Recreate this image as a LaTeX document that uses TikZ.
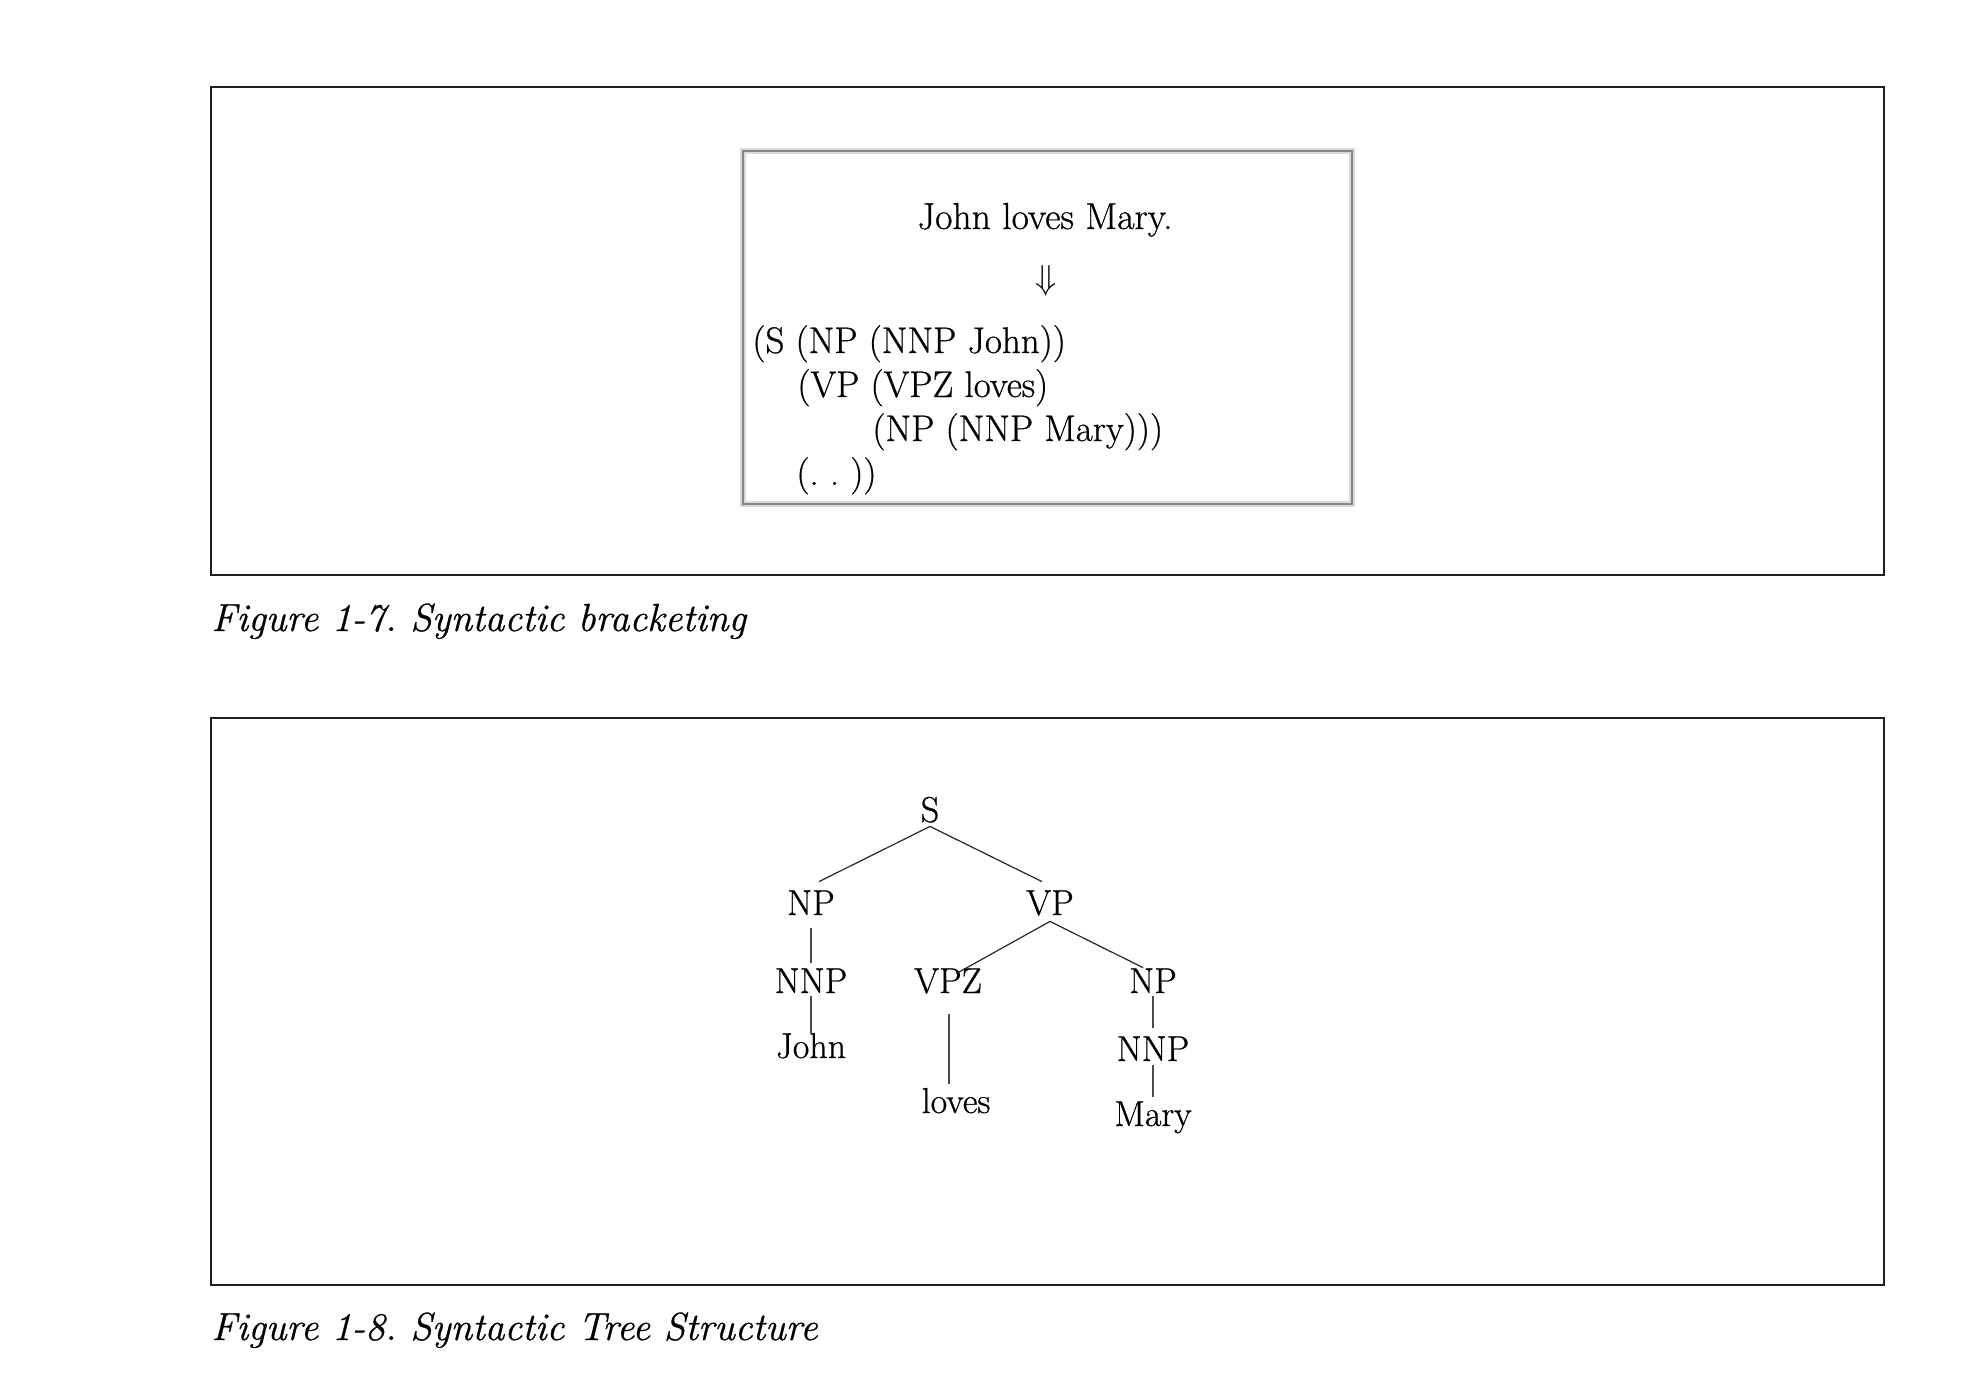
\documentclass[tikz,border=0pt]{standalone}
\usepackage{fontspec}
\newfontfamily\darkfont{Latin Modern Roman}[FakeBold=0.7]
\usetikzlibrary{calc}
\begin{document}
\begin{tikzpicture}[x=0.5pt,y=-0.5pt,
  frame/.style={draw=black!88, line width=1pt},
  inbox/.style={draw=black!48, line width=1.3pt},
  tn/.style={inner sep=0pt, text height=12.5pt, text depth=4pt, anchor=base, font=\darkfont\fontsize{18}{21}\selectfont},
  br/.style={inner sep=0pt, anchor=base west, font=\darkfont\fontsize{18.5}{22}\selectfont},
  capt/.style={inner sep=0pt, anchor=base west, font=\darkfont\fontsize{19.6}{23}\selectfont\itshape},
  tedge/.style={draw=black!85, line width=0.6pt},
  vedge/.style={draw=black!70, line width=0.55pt}]
\path[use as bounding box] (0,0) rectangle (1986,1376);
% frames
\draw[frame] (211,87) rectangle (1884,575);
\draw[frame] (211,718) rectangle (1884,1285);
\draw[draw=black!15, line width=2.6pt] (743,151) rectangle (1352,504);
\draw[inbox] (743,151) rectangle (1352,504);
% figure 1-7
\node[inner sep=0pt, anchor=base, font=\darkfont\fontsize{18.8}{22}\selectfont] (sent) at (1045,229) {John loves Mary.};
\node[inner sep=0pt, font=\fontsize{17}{20}\selectfont] (arr) at (1046,281) {$\Downarrow$};
\node[br] (b1) at (752,353) {(S (NP (NNP John))};
\node[br] (b2) at (797,397) {(VP (VPZ loves)};
\node[br] (b3) at (872,441) {(NP (NNP Mary)))};
\node[br] (b4) at (796,485) {(.\ .\ ))};
\node[capt] (c1) at (211,631) {Figure 1-7.\ Syntactic bracketing};
% figure 1-8
\node[tn] (S) at (930,822) {S};
\node[tn] (NP) at (811,915) {NP};
\node[tn] (VP) at (1050,915) {VP};
\node[tn] (NNPa) at (811,993) {NNP};
\node[tn] (VPZ) at (948,993) {VPZ};
\node[tn] (NPb) at (1153,993) {NP};
\node[tn] (John) at (811,1058) {John};
\node[tn] (loves) at (956,1113) {loves};
\node[tn] (NNPb) at (1153,1061) {NNP};
\node[tn] (Mary) at (1153,1126) {Mary};
\draw[tedge] ($(S.south)+(0,-4)$) -- ($(NP.north)+(8,-8)$);
\draw[tedge] ($(S.south)+(0,-4)$) -- ($(VP.north)+(-8,-8)$);
\draw[vedge] ($(NP.south)+(0,5)$) -- ($(NNPa.north)+(0,-5)$);
\draw[vedge] ($(NNPa.south)+(0,-5)$) -- ($(John.north)+(0,0)$);
\draw[tedge] ($(VP.south)+(0,-2)$) -- ($(VPZ.north)+(10,5)$);
\draw[tedge] ($(VP.south)+(0,-2)$) -- ($(NPb.north)+(-10,0)$);
\draw[vedge] ($(VPZ.south)+(1,13)$) -- ($(loves.north)+(-7,-4)$);
\draw[vedge] ($(NPb.south)+(0,-5)$) -- ($(NNPb.north)+(0,-8)$);
\draw[vedge] ($(NNPb.south)+(0,-4)$) -- ($(Mary.north)+(0,-4)$);
\node[capt] (c2) at (211,1340) {Figure 1-8.\ Syntactic Tree Structure};
\end{tikzpicture}
\end{document}
